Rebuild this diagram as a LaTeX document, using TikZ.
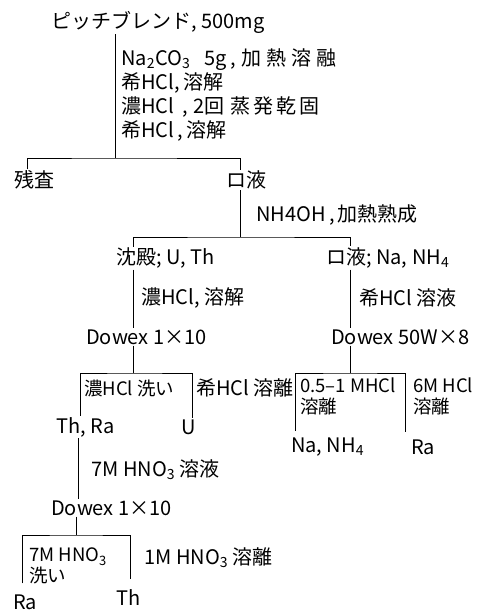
\documentclass[tikz,border=0pt]{standalone}
\usepackage{fontspec}
\setmainfont{Noto Sans CJK JP}
\usetikzlibrary{positioning}

\tikzset{
  lbl/.style={anchor=west, inner sep=1pt, align=left, font=\fontsize{20}{24}\selectfont},
  small/.style={lbl, font=\fontsize{18.5}{21}\selectfont},
  link/.style={line width=1pt}
}

\begin{document}
\begin{tikzpicture}[x=1pt, y=-1pt]
    \useasboundingbox (0,0) rectangle (489,611);
    % sample and first treatment
    \node[lbl] (pb) at (50,22) {ピッチブレンド, 500mg};
    \node[lbl] (treat) at (120,95) {Na\textsubscript{2}CO\textsubscript{3}\hspace{14pt}5g\,,\hspace{6pt}加\hspace{5pt}熱\hspace{5pt}溶\hspace{5pt}融\\希HCl,\,溶解\\濃HCl\hspace{8pt},\hspace{6pt}2回\hspace{6pt}蒸\hspace{3pt}発\hspace{3pt}乾\hspace{3pt}固\\希HCl\,,\,溶解};
    \node[lbl] (res) at (13,180) {残査};
    \node[lbl] (fil1) at (225,180) {ロ液};
    \node[lbl] (nh) at (255,215) {NH4OH\,,\,加熱熟成};
    % second split
    \node[lbl] (ppt) at (115,258) {沈殿; U, Th};
    \node[lbl] (fil2) at (325,258) {ロ液; Na, NH\textsubscript{4}};
    \node[lbl] (dis) at (140,298) {濃HCl, 溶解};
    \node[lbl] (sol) at (358,298) {希HCl 溶液};
    \node[lbl] (dw1) at (85,337) {Dowex 1×10};
    \node[lbl] (dw2) at (330,337) {Dowex 50W×8};
    % columns
    \node[small] (wash1) at (83,388) {濃HCl 洗い};
    \node[lbl] (elu1) at (195,388) {希HCl 溶離};
    \node[lbl] (thra) at (55,427) {Th, Ra};
    \node[lbl] (u) at (180,427) {U};
    \node[small] (elu2) at (299,396) {0.5–1 MHCl\\溶離};
    \node[small] (elu3) at (412,396) {6M HCl\\溶離};
    \node[lbl] (nanh) at (290,447) {Na, NH\textsubscript{4}};
    \node[lbl] (ra1) at (410,447) {Ra};
    \node[lbl] (hno) at (90,470) {7M HNO\textsubscript{3} 溶液};
    \node[lbl] (dw3) at (50,508) {Dowex 1×10};
    \node[small] (wash2) at (28,566) {7M HNO\textsubscript{3}\\洗い};
    \node[lbl] (elu4) at (143,558) {1M HNO\textsubscript{3} 溶離};
    \node[lbl] (ra2) at (12,602) {Ra};
    \node[lbl] (th) at (115,598) {Th};

    % branch points
    \coordinate (k1) at (115,158);
    \coordinate (k2) at (240,237);
    \coordinate (k3) at (133,373);
    \coordinate (k4) at (350,373);
    \coordinate (k5) at (76,535);

    \draw[link] (pb.south -| k1) -- (k1);
    \draw[link] (res.north -| 27,0) |- (k1) -| (fil1.north -| 240,0);
    \draw[link] (fil1.south -| k2) -- (k2);
    \draw[link] (ppt.north -| 133,0) |- (k2) -| (fil2.north -| 350,0);
    \draw[link] (ppt.south -| 133,0) -- (dw1.north -| 133,0);
    \draw[link] (fil2.south -| 350,0) -- (dw2.north -| 350,0);
    \draw[link] (dw1.south -| k3) -- (k3);
    \draw[link] (thra.north -| 80,0) |- (k3) -| (u.north -| 192,0);
    \draw[link] (dw2.south -| k4) -- (k4);
    \draw[link] ([yshift=6pt]nanh.north -| 295,0) |- (k4) -| ([yshift=6pt]ra1.north -| 405,0);
    \draw[link] (thra.south -| 78,0) -- (dw3.north -| 78,0);
    \draw[link] (dw3.south -| k5) -- (k5);
    \draw[link] ([yshift=10pt]ra2.north -| 22,0) |- (k5) -| ([yshift=10pt]th.north -| 130,0);
\end{tikzpicture}
\end{document}
